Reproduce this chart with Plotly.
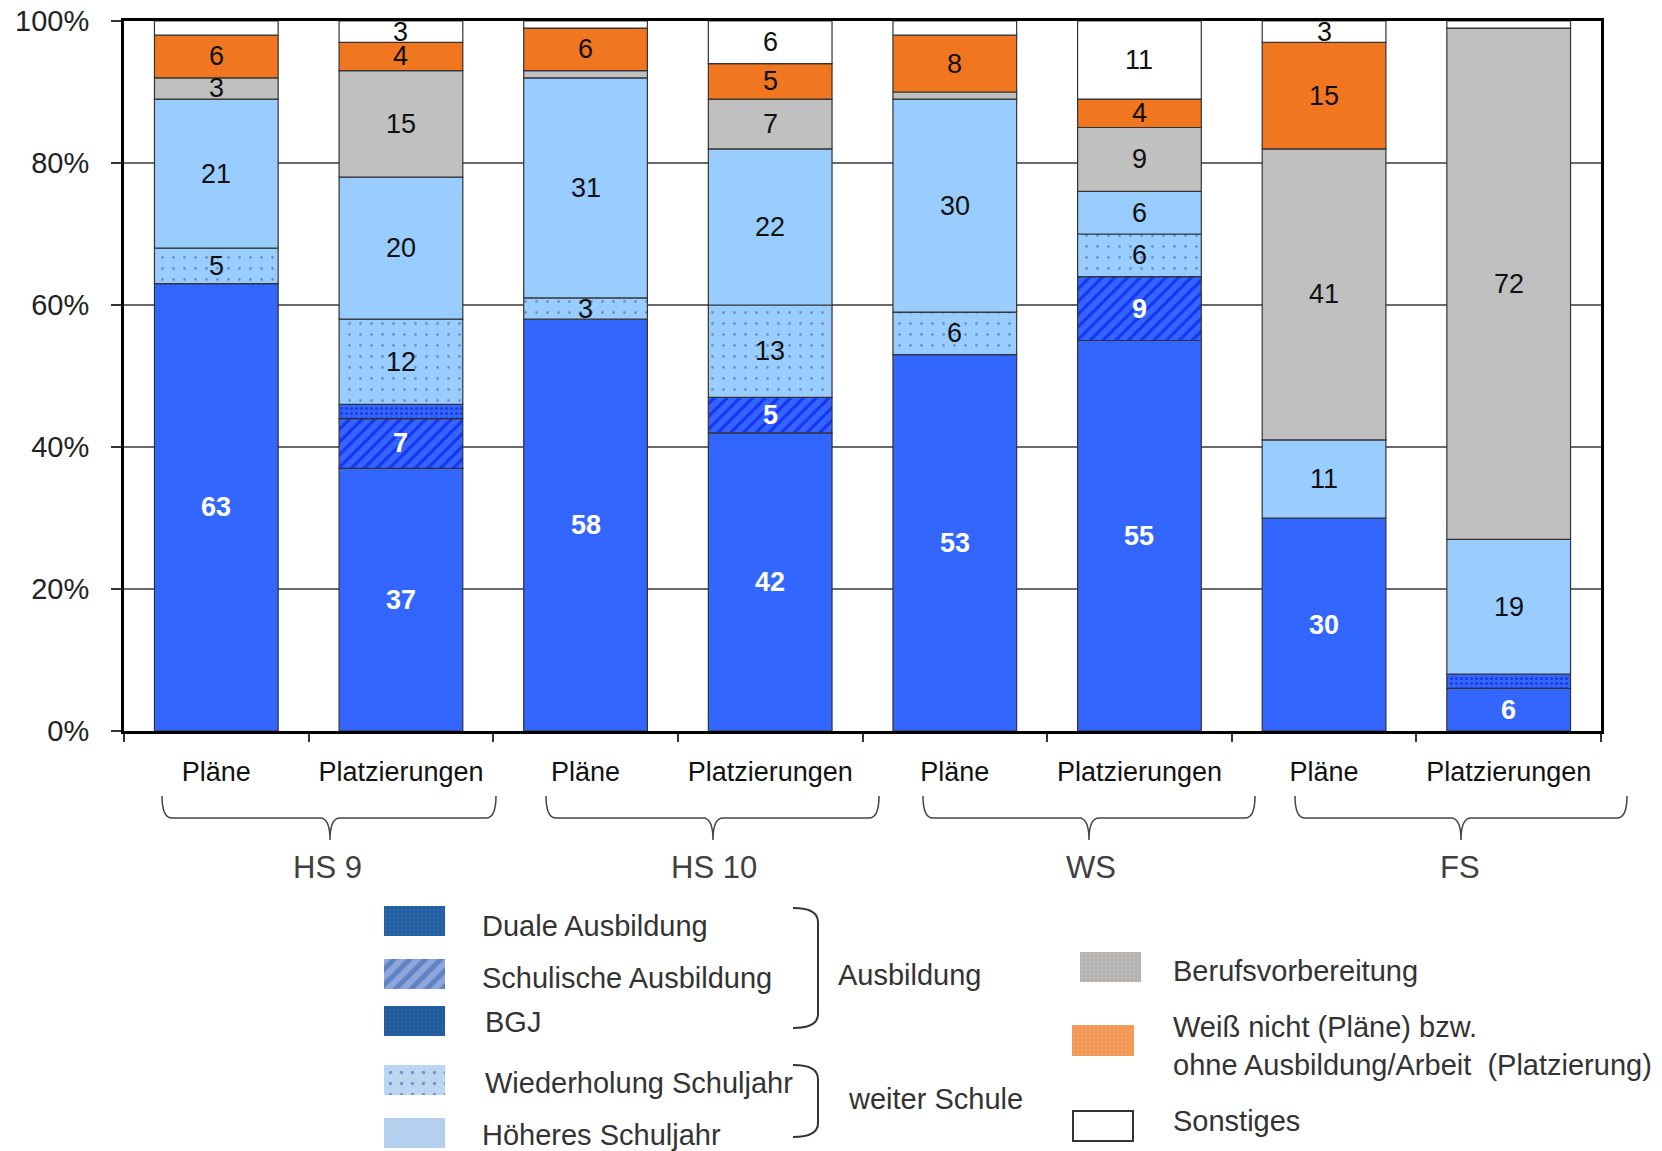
import plotly.graph_objects as go

# ---------------------------------------------------------------- data
bar_labels = ["Pläne", "Platzierungen", "Pläne", "Platzierungen",
              "Pläne", "Platzierungen", "Pläne", "Platzierungen"]
group_labels = ["HS 9", "HS 10", "WS", "FS"]
y_ticks = [0, 20, 40, 60, 80, 100]
y_tick_text = ["0%", "20%", "40%", "60%", "80%", "100%"]

# shares in percent, stacked bottom to top
duale = [63, 37, 58, 42, 53, 55, 30, 6]
schulisch = [0, 7, 0, 5, 0, 9, 0, 0]
bgj = [0, 2, 0, 0, 0, 0, 0, 2]
wiederholung = [5, 12, 3, 13, 6, 6, 0, 0]
hoeheres = [21, 20, 31, 22, 30, 6, 11, 19]
berufsvorb = [3, 15, 1, 7, 1, 9, 41, 72]
weiss_nicht = [6, 4, 6, 5, 8, 4, 15, 0]
sonstiges = [2, 3, 1, 6, 2, 11, 3, 1]

legend_left = ["Duale Ausbildung", "Schulische Ausbildung", "BGJ",
               "Wiederholung Schuljahr", "Höheres Schuljahr"]
legend_right = ["Berufsvorbereitung",
                "Weiß nicht (Pläne) bzw.<br>ohne Ausbildung/Arbeit  (Platzierung)",
                "Sonstiges"]
bracket_labels = ["Ausbildung", "weiter Schule"]

# ---------------------------------------------------------------- styles
FONT = "Liberation Sans, Arial, sans-serif"
W, H = 1662, 1151
PLOT_L, PLOT_R, PLOT_T, PLOT_B = 124, 1601, 21, 731

series = [
    (duale, dict(color="#3366ff"), True),
    (schulisch, dict(color="#3366ff",
                     pattern=dict(shape="/", fgcolor="#0000e6", size=9,
                                  solidity=0.35, fillmode="overlay")), True),
    (bgj, dict(color="#3366ff",
               pattern=dict(shape=".", fgcolor="#0010c0", size=5,
                            solidity=0.3, fillmode="overlay")), True),
    (wiederholung, dict(color="#99ccff",
                        pattern=dict(shape=".", fgcolor="#3a5a90", size=11,
                                     solidity=0.05, fillmode="overlay")), False),
    (hoeheres, dict(color="#99ccff"), False),
    (berufsvorb, dict(color="#c0c0c0"), False),
    (weiss_nicht, dict(color="#f07620"), False),
    (sonstiges, dict(color="#ffffff"), False),
]

fig = go.Figure()
xs = list(range(len(bar_labels)))
base = [0] * len(bar_labels)
annotations = []

for values, marker, white_text in series:
    fig.add_trace(go.Bar(
        x=xs,
        y=[v if v else None for v in values],
        base=list(base),
        width=0.67,
        marker=dict(**marker, line=dict(color="#333333", width=1.2)),
        hoverinfo="skip",
        showlegend=False,
    ))
    for i, v in enumerate(values):
        if v >= 3:
            annotations.append(dict(
                x=i, y=base[i] + v / 2, xref="x", yref="y",
                text=f"<b>{v}</b>" if white_text else str(v),
                showarrow=False,
                font=dict(family=FONT, size=27 if white_text else 27,
                          color="#ffffff" if white_text else "#111111"),
            ))
        base[i] += v

# ------------------------------------------------- legend swatches (pixel axes)
swatch_left = [
    dict(color="#1f5b9e", pattern=dict(shape="+", fgcolor="#4d84c4", size=4,
                                       solidity=0.25, fillmode="overlay")),
    dict(color="#8ea6dc", pattern=dict(shape="/", fgcolor="#2f5eae", size=11,
                                       solidity=0.45, fillmode="overlay")),
    dict(color="#1d5898", pattern=dict(shape="+", fgcolor="#4a7fc0", size=4,
                                       solidity=0.25, fillmode="overlay")),
    dict(color="#bcd5f1", pattern=dict(shape=".", fgcolor="#3050a0", size=11,
                                       solidity=0.08, fillmode="overlay")),
    dict(color="#b2cdee", pattern=dict(shape="+", fgcolor="#d2e2f6", size=4,
                                       solidity=0.2, fillmode="overlay")),
]
swatch_left_y = [(906, 936), (959, 989), (1006, 1036), (1065, 1095), (1118, 1148)]
swatch_right = [
    dict(color="#b3afaf", pattern=dict(shape="+", fgcolor="#d6d4d4", size=4,
                                       solidity=0.25, fillmode="overlay")),
    dict(color="#f09450", pattern=dict(shape="+", fgcolor="#f8c193", size=4,
                                       solidity=0.25, fillmode="overlay")),
    dict(color="#ffffff"),
]
swatch_right_box = [(1080, 1141, 952, 982), (1072, 1134, 1025, 1056),
                    (1073, 1133, 1111, 1141)]

for (y0, y1), mk in zip(swatch_left_y, swatch_left):
    fig.add_trace(go.Bar(x=[414.5], y=[y1 - y0], base=[y0], width=61,
                         marker=dict(**mk, line=dict(width=0)),
                         xaxis="x2", yaxis="y2", hoverinfo="skip",
                         showlegend=False))
for (x0, x1, y0, y1), mk in zip(swatch_right_box, swatch_right):
    lw = 2 if mk["color"] == "#ffffff" else 0
    fig.add_trace(go.Bar(x=[(x0 + x1) / 2], y=[y1 - y0], base=[y0],
                         width=x1 - x0,
                         marker=dict(**mk, line=dict(width=lw, color="#333333")),
                         xaxis="x2", yaxis="y2", hoverinfo="skip",
                         showlegend=False))

TXT = "#333333"
LEG = 29
left_text_pos = [(480, 926), (480, 978), (483, 1022), (483, 1083), (480, 1135)]
for label, (x, y) in zip(legend_left, left_text_pos):
    annotations.append(dict(x=x, y=y, xref="x2", yref="y2", text=label,
                            showarrow=False, xanchor="left", yanchor="middle",
                            font=dict(family=FONT, size=LEG, color=TXT)))
right_text_pos = [(1171, 971), (1171, 1046), (1171, 1121)]
for label, (x, y) in zip(legend_right, right_text_pos):
    annotations.append(dict(x=x, y=y, xref="x2", yref="y2", text=label,
                            showarrow=False, xanchor="left", yanchor="middle",
                            align="left",
                            font=dict(family=FONT, size=LEG, color=TXT)))
for label, (x, y) in zip(bracket_labels, [(836, 975), (846, 1099)]):
    annotations.append(dict(x=x, y=y, xref="x2", yref="y2", text=label,
                            showarrow=False, xanchor="left", yanchor="middle",
                            font=dict(family=FONT, size=LEG, color=TXT)))

# group names under the curly braces
group_x = [327, 714, 1091, 1460]
for label, x in zip(group_labels, group_x):
    annotations.append(dict(x=x, y=867, xref="x2", yref="y2", text=label,
                            showarrow=False, xanchor="center", yanchor="middle",
                            font=dict(family=FONT, size=31, color="#404040")))

shapes = []
# horizontal curly braces below the category labels
brace_spans = [(162, 496, 330), (546, 879, 713), (923, 1255, 1089),
               (1295, 1627, 1461)]
top, mid, tip = 796, 818, 840
for x0, x1, xc in brace_spans:
    path = (f"M {x0},{top} Q {x0},{mid} {x0 + 10},{mid} "
            f"L {xc - 10},{mid} Q {xc},{mid} {xc},{tip} "
            f"Q {xc},{mid} {xc + 10},{mid} "
            f"L {x1 - 10},{mid} Q {x1},{mid} {x1},{top}")
    shapes.append(dict(type="path", path=path, xref="x2", yref="y2",
                       line=dict(color="#444444", width=1.5)))

# right-facing braces grouping the legend entries
for y0, y1 in [(908, 1028), (1065, 1137)]:
    xa, xb = 793, 818
    path = (f"M {xa},{y0} Q {xb},{y0} {xb},{y0 + 14} "
            f"L {xb},{y1 - 14} Q {xb},{y1} {xa},{y1}")
    shapes.append(dict(type="path", path=path, xref="x2", yref="y2",
                       line=dict(color="#333333", width=2)))

# ---------------------------------------------------------------- layout
fig.update_layout(
    width=W, height=H,
    margin=dict(l=0, r=0, t=0, b=0),
    paper_bgcolor="#ffffff",
    plot_bgcolor="rgba(0,0,0,0)",
    barmode="overlay",
    template="none",
    showlegend=False,
    annotations=annotations,
    shapes=shapes,
    xaxis=dict(
        domain=[PLOT_L / W, PLOT_R / W],
        range=[-0.5, len(bar_labels) - 0.5],
        tickmode="array", tickvals=xs, ticktext=bar_labels,
        ticks="", ticklabelstandoff=15,
        tickfont=dict(family=FONT, size=27, color="#111111"),
        minor=dict(tickmode="linear", tick0=-0.5, dtick=1, ticks="outside",
                   ticklen=8, tickwidth=1.5, tickcolor="#333333",
                   showgrid=False),
        showline=True, mirror=True, linecolor="#000000", linewidth=3,
        showgrid=False, zeroline=False, automargin=False, fixedrange=True,
    ),
    yaxis=dict(
        domain=[1 - PLOT_B / H, 1 - PLOT_T / H],
        range=[0, 100],
        tickmode="array", tickvals=y_ticks, ticktext=y_tick_text,
        ticks="outside", ticklen=10, tickwidth=1.5, tickcolor="#333333",
        ticklabelstandoff=16,
        tickfont=dict(family=FONT, size=29, color="#222222"),
        showline=True, mirror=True, linecolor="#000000", linewidth=3,
        showgrid=True, gridcolor="#6a6a6a", gridwidth=1.5,
        zeroline=False, automargin=False, fixedrange=True,
    ),
    xaxis2=dict(domain=[0, 1], range=[0, W], anchor="y2", visible=False,
                fixedrange=True),
    yaxis2=dict(domain=[0, 1], range=[H, 0], anchor="x2", visible=False,
                fixedrange=True),
)

fig.write_html("out.html")
